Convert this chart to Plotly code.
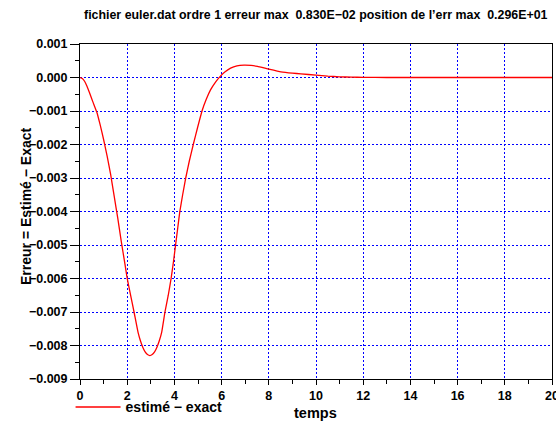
import plotly.graph_objects as go

# Data
temps = [0, 0.1, 0.2, 0.3, 0.4, 0.5, 0.6, 0.72, 0.85, 1.0, 1.15, 1.3, 1.45,
         1.6, 1.75, 1.9, 2.0, 2.15, 2.29, 2.46, 2.56, 2.66, 2.76, 2.86, 2.96,
         3.06, 3.16, 3.26, 3.36, 3.46, 3.6, 3.74, 3.86, 3.96, 4.05, 4.14, 4.23,
         4.35, 4.48, 4.63, 4.8, 4.98, 5.17, 5.35, 5.53, 5.75, 5.96, 6.15, 6.38,
         6.65, 6.95, 7.25, 7.52, 8.0, 8.51, 9.0, 9.36, 10, 10.5, 11, 11.5, 12,
         13, 14, 16, 18, 20]
erreur = [0, -0.00003, -0.00012, -0.00027, -0.00045, -0.00064, -0.00083,
          -0.00105, -0.0014, -0.00185, -0.00235, -0.0029, -0.00355, -0.0042,
          -0.0049, -0.00555, -0.006, -0.00652, -0.007, -0.00761, -0.00786,
          -0.00805, -0.00819, -0.00827, -0.0083, -0.00827, -0.00819, -0.00805,
          -0.00786, -0.00761, -0.007, -0.0065, -0.006, -0.0055, -0.005,
          -0.0045, -0.004, -0.0035, -0.003, -0.0025, -0.002, -0.0015, -0.001,
          -0.00065, -0.00037, -0.00013, 0.00005, 0.00017, 0.00028, 0.00035,
          0.00037, 0.00036, 0.00033, 0.00025, 0.00017, 0.00013, 0.00011,
          0.00007, 0.00004, 0.00002, 0.00001, 0.000005, 0, 0, 0, 0, 0]

title_text = ("fichier euler.dat ordre 1 erreur max \u00a00.830E\u221202 "
              "position de l\u2019err max \u00a00.296E+01")
y_title = "Erreur = Estimé \u2212 Exact"
x_title = "temps"
legend_name = "estimé \u2212 exact"

FONT = "Liberation Sans"
W, H = 556, 422
L, R, T, B = 80, 4, 44, 43

fig = go.Figure()
fig.add_trace(go.Scatter(
    x=temps, y=erreur, mode="lines", name=legend_name,
    line=dict(color="#ff0000", width=1.3, shape="spline", smoothing=0.3),
))

fig.update_layout(
    width=W, height=H,
    margin=dict(l=L, r=R, t=T, b=B, autoexpand=False),
    paper_bgcolor="white", plot_bgcolor="white",
    font=dict(family=FONT, color="black", weight="bold"),
    showlegend=True,
    legend=dict(x=-0.02, xanchor="left", y=-0.037, yanchor="top",
                font=dict(size=14, family=FONT, weight="bold"),
                bgcolor="rgba(0,0,0,0)", itemwidth=45),
    annotations=[
        dict(text=title_text, xref="paper", yref="paper", x=0.5, xanchor="center",
             y=1 + (T - 15) / (H - T - B), yanchor="middle", showarrow=False,
             font=dict(size=12.4, family=FONT, weight="bold")),
        dict(text=y_title, xref="paper", yref="paper",
             x=-(L - 26) / (W - L - R), xanchor="center",
             y=1 - (206 - T) / (H - T - B), yanchor="middle", textangle=-90,
             showarrow=False, font=dict(size=14, family=FONT, weight="bold")),
        dict(text=x_title, xref="paper", yref="paper", x=(315 - L) / (W - L - R),
             xanchor="center", y=-(413 - (H - B)) / (H - T - B), yanchor="middle",
             showarrow=False, font=dict(size=14.5, family=FONT, weight="bold")),
    ],
)

fig.update_xaxes(
    range=[0, 20], dtick=2, tick0=0, tickformat="d",
    showline=True, linecolor="black", linewidth=1, mirror=True,
    ticks="outside", ticklen=5, tickcolor="black", tickwidth=1,
    minor=dict(dtick=1, ticks="outside", ticklen=4, tickcolor="black", showgrid=False),
    showgrid=True, gridcolor="#0000ff", gridwidth=1, griddash="2px,2px",
    zeroline=False, automargin=False, ticklabeloverflow="allow",
    tickfont=dict(size=12.5, family=FONT, weight="bold"),
)
fig.update_yaxes(
    range=[-0.009, 0.001], dtick=0.001, tick0=0, tickformat=".3f",
    showline=True, linecolor="black", linewidth=1, mirror=True,
    ticks="outside", ticklen=9, tickcolor="black", tickwidth=1,
    minor=dict(dtick=0.0005, ticks="outside", ticklen=4, tickcolor="black", showgrid=False),
    showgrid=True, gridcolor="#0000ff", gridwidth=1, griddash="2px,2px",
    zeroline=False, automargin=False,
    tickfont=dict(size=12.5, family=FONT, weight="bold"),
)

fig.write_html("out.html")
